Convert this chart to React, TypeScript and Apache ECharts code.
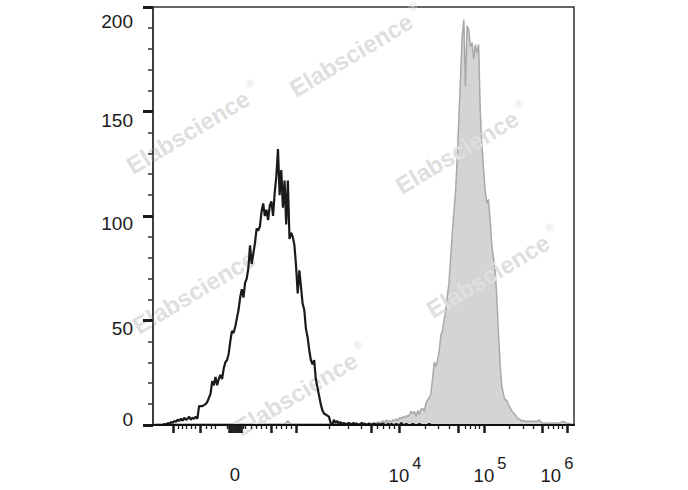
import React, { useEffect, useRef } from "react";
import * as echarts from "echarts";

// Histogram counts, 256 bins over a 0..1024 display-channel (biexponential) scale
const CHANNEL_MAX = 1024;
const BIN_WIDTH = 4;

// Unstained / isotype control (black outline)
const controlCounts = [
  0, 0, 0, 0, 0, 0, 0, 0.5, 0, 1,
  0.5, 1.5, 1, 2, 1.5, 2.5, 2, 3, 2, 3.5,
  2.5, 3, 4, 2.5, 3.5, 3, 4, 3, 9, 9,
  9, 9.5, 10, 11, 13, 15, 21, 19, 23, 19,
  22, 24, 22, 27, 30, 31, 34, 40, 45, 44,
  47, 51, 55, 61, 65, 61, 68, 70, 75, 86,
  77, 82, 87, 94, 93, 95, 102, 106, 100, 103,
  98, 105, 107, 100, 111, 119, 132, 110, 122, 104,
  117, 96, 117, 89, 92, 90, 86, 76, 63, 74,
  66, 58, 55, 46, 42, 36, 31, 29, 31, 22,
  18, 14, 10, 7, 5.5, 5, 4.5, 4, 1, 0,
  2.5, 1, 2, 0.5, 1.5, 0.5, 1, 0.5, 0.5, 1,
  0.5, 0.5, 1, 0.5, 0.5, 0, 0.5, 1, 0.5, 0.5,
  0, 0.5, 0.5, 0, 0.5, 0.5, 0, 0.5, 0, 0.5,
  0.5, 0, 0, 0.5, 0, 0.5, 0, 0, 0.5, 0,
  0, 1, 0, 0, 0.5, 0, 0, 0, 0.5, 0,
  0, 0, 0.5, 0, 0, 0, 0, 0, 0.5, 0,
  0, 0, 0, 0, 0, 0, 0, 0, 0, 0,
  0, 0, 0, 0, 0, 0, 0, 0, 0, 0,
  0, 0, 0, 0, 0, 0, 0, 0, 0, 0,
  0, 0, 0, 0, 0, 0, 0, 0, 0, 0,
  0, 0, 0, 0, 0, 0, 0, 0, 0, 0,
  0, 0, 0, 0, 0, 0, 0, 0, 0, 0,
  0, 0, 0, 0, 0, 0, 0, 0, 0, 0,
  0, 0, 0, 0, 0, 0, 0, 0, 0, 0,
  0, 0, 0, 0, 0, 0,
];

// Stained sample (grey filled)
const stainedCounts = [
  0, 0, 0.5, 0.5, 0.5, 0.5, 0.5, 0.5, 0.5, 0.5,
  0.5, 0.5, 0.5, 0.5, 0.5, 0.5, 0.5, 0.5, 0.5, 0.5,
  0.5, 0.5, 0.5, 0.5, 0.5, 0.5, 0.5, 0.5, 0.5, 0.5,
  0.5, 0.5, 0.5, 0.5, 0.5, 0.5, 0.5, 0.5, 0.5, 0.5,
  0.5, 0.5, 0.5, 0.5, 0.5, 0.5, 0.5, 0.5, 0.5, 0.5,
  0.5, 0.5, 0.5, 0.5, 0.5, 0.5, 0.5, 0.5, 0.5, 0.5,
  0.5, 0.5, 0.5, 0.5, 0.5, 0.5, 0.5, 0.5, 0.5, 0.5,
  0.5, 0.5, 0.5, 0.5, 0.5, 0.5, 0.5, 0.5, 0.5, 0.5,
  0.5, 1, 2, 1, 0.5, 0.5, 0.5, 0.5, 0.5, 0.5,
  0.5, 0.5, 0.5, 0.5, 0.5, 0.5, 0.5, 0.5, 0.5, 0.5,
  0.5, 0.5, 0.5, 0.5, 0.5, 0.5, 0.5, 0.5, 0.5, 0.5,
  0.5, 0.5, 0.5, 1, 0.5, 0.5, 0.5, 0.5, 0.5, 0.5,
  0.5, 0.5, 0.5, 0.5, 1, 0.5, 0.5, 0.5, 0.5, 0.5,
  0.5, 1, 0.5, 0.5, 1, 0.5, 1, 1.5, 1, 1.5,
  2, 1, 2.5, 1.5, 2, 1.5, 2.5, 2, 3, 2,
  3.5, 3, 4, 3.5, 4.5, 4, 5, 6.5, 5.5, 6.5,
  4, 7, 5, 7.5, 8, 6.5, 10.5, 12, 13, 15,
  22, 30, 28, 31, 35, 43, 45, 50, 55, 62,
  68, 80, 92, 102, 112, 128, 147, 166, 186, 194,
  162, 191, 189, 181, 183, 175, 182, 178, 182, 150,
  134, 122, 112, 106, 108, 98, 86, 80, 74, 62,
  45, 30, 19, 15, 12, 12, 10, 8.5, 7, 6,
  5, 4, 3, 2.8, 2, 2.2, 2, 1.5, 2, 1.6,
  2, 1.5, 2, 1.5, 2, 2.4, 1.2, 1, 0.8, 1,
  0.8, 1, 0.8, 0.8, 1, 1, 0.8, 1, 1.2, 1.6,
  1.6, 1, 0.8, 0.8, 0.5, 0.5,
];

// X axis ticks (display channels of the biexponential scale)
const xMajorTicks = [48.6, 114.3, 184.8, 189.7, 194.6, 199.4, 204.3, 209.1, 214.0, 287, 347.8, 530.2, 598.3, 741.8, 805, 946, 1006.8];
const xMinorTicks = [
  60.8, 70.5, 80.3, 92.4, 102.1, 128.9, 141.1, 150.8, 180, 218.9, 223.7,
  238.3, 250.5, 262.7, 274.8, 299.1, 311.3, 323.5, 335.6,
  428, 474.2, 505.9, 544.8, 559.4, 574, 586.2,
  661.5, 693.1, 719.9, 758.8, 770.9, 783.1, 792.8,
  865.8, 899.8, 924.2, 960.6, 972.8, 985, 994.7,
];
const xLabelChannels = [199.4, 598.3, 805, 1006.8];
const xLabelExponents = [null, 4, 5, 6];

// Y axis
const yMin = 0;
const yMax = 200;
const yInterval = 50;

const watermarkText = "Elabscience";
const watermarkCenters = [
  [351, 55],
  [188, 132],
  [457, 152],
  [194, 292],
  [488, 276],
  [296, 394],
];

const FONT = "'Liberation Sans', Arial, Helvetica, sans-serif";

export default function App() {
  const ref = useRef<HTMLDivElement>(null);

  useEffect(() => {
    if (!ref.current) return;
    const chart = echarts.init(ref.current, null, { renderer: "svg" });

    const controlData = controlCounts.map((c, i) => [i * BIN_WIDTH, c]);
    const stainedData = stainedCounts.map((c, i) => [i * BIN_WIDTH, c]);

    const angle = (31 * Math.PI) / 180;
    const wmColor = "#dfdfdf";
    const watermarks = watermarkCenters.map(([cx, cy]) => ({
      type: "group",
      x: cx,
      y: cy,
      rotation: angle,
      silent: true,
      children: [
        {
          type: "text",
          z: 2,
          style: {
            text: watermarkText,
            x: 0,
            y: 0,
            align: "center",
            verticalAlign: "middle",
            font: `bold 24px ${FONT}`,
            fill: wmColor,
          },
        },
        {
          type: "text",
          z: 2,
          style: {
            text: "®",
            x: 78,
            y: -10,
            align: "center",
            verticalAlign: "middle",
            font: `11px ${FONT}`,
            fill: wmColor,
          },
        },
      ],
    }));

    const yRich: Record<string, any> = {};
    const yPads: Record<number, number[]> = {
      0: [0, 0, 12, 0],
      50: [16, 0, 0, 0],
      100: [14, 0, 0, 0],
      150: [18, 0, 0, 0],
      200: [28, 0, 0, 0],
    };
    Object.keys(yPads).forEach((k) => {
      yRich["y" + k] = { fontSize: 19, fontFamily: FONT, color: "#1a1a1a", padding: yPads[+k] };
    });

    const option: any = {
      animation: false,
      backgroundColor: "#ffffff",
      grid: {
        left: 153,
        right: 114,
        top: 7,
        bottom: 65,
        show: true,
        borderColor: "#333333",
        borderWidth: 1.5,
        backgroundColor: "transparent",
      },
      xAxis: [
        {
          type: "value",
          min: 0,
          max: CHANNEL_MAX,
          position: "bottom",
          z: 5,
          splitLine: { show: false },
          axisLine: { show: true, lineStyle: { color: "#111111", width: 2.2 } },
          axisTick: {
            show: true,
            length: 8,
            customValues: xMajorTicks,
            lineStyle: { color: "#1a1a1a", width: 2.5 },
          },
          axisLabel: {
            show: true,
            customValues: xLabelChannels,
            margin: 29,
            verticalAlign: "top",
            formatter: (v: number) => {
              const k = xLabelChannels.findIndex((c) => Math.abs(c - v) < 0.5);
              const e = k >= 0 ? xLabelExponents[k] : null;
              if (e == null) return "{z|0}";
              return e === 6 ? `{b|10}{se|${e}}` : `{b|10}{s|${e}}`;
            },
            rich: {
              z: { fontSize: 18.5, fontFamily: FONT, color: "#1a1a1a", padding: [11, 0, 0, 0] },
              b: { fontSize: 18.5, fontFamily: FONT, color: "#1a1a1a", padding: [12, 0, 0, 12] },
              s: { fontSize: 16.5, fontFamily: FONT, color: "#1a1a1a", verticalAlign: "top", padding: [0, 0, 0, 3] },
              se: { fontSize: 16.5, fontFamily: FONT, color: "#1a1a1a", verticalAlign: "top", padding: [0, 32, 0, 3] },
            },
          },
        },
        {
          type: "value",
          min: 0,
          max: CHANNEL_MAX,
          position: "bottom",
          z: 5,
          splitLine: { show: false },
          axisLine: { show: false },
          axisTick: {
            show: true,
            length: 4,
            customValues: xMinorTicks,
            lineStyle: { color: "#1a1a1a", width: 1.3 },
          },
          axisLabel: { show: false },
        },
      ],
      yAxis: {
        type: "value",
        min: yMin,
        max: yMax,
        interval: yInterval,
        z: 5,
        splitLine: { show: false },
        axisLine: { show: true, lineStyle: { color: "#333333", width: 1.5 } },
        axisTick: { show: true, length: 10, lineStyle: { color: "#1a1a1a", width: 3 } },
        minorTick: { show: true, splitNumber: 5, length: 5, lineStyle: { color: "#333333", width: 1.5 } },
        minorSplitLine: { show: false },
        axisLabel: {
          margin: 20,
          formatter: (v: number) => `{y${v}|${v}}`,
          rich: yRich,
        },
      },
      graphic: watermarks,
      series: [
        {
          name: "Stained",
          type: "line",
          z: 1,
          data: stainedData,
          showSymbol: false,
          symbol: "none",
          silent: true,
          lineStyle: { color: "#a8a8a8", width: 1.5 },
          areaStyle: { color: "#d4d4d4", opacity: 1, origin: "start" },
        },
        {
          name: "Control",
          type: "line",
          z: 3,
          data: controlData,
          showSymbol: false,
          symbol: "none",
          silent: true,
          lineStyle: { color: "#1a1a1a", width: 2.2 },
        },
      ],
    };

    chart.setOption(option);
    return () => chart.dispose();
  }, []);

  return (
    <div
      ref={ref}
      style={{ position: "fixed", left: 0, top: 0, width: 688, height: 490, background: "#fff" }}
    />
  );
}
